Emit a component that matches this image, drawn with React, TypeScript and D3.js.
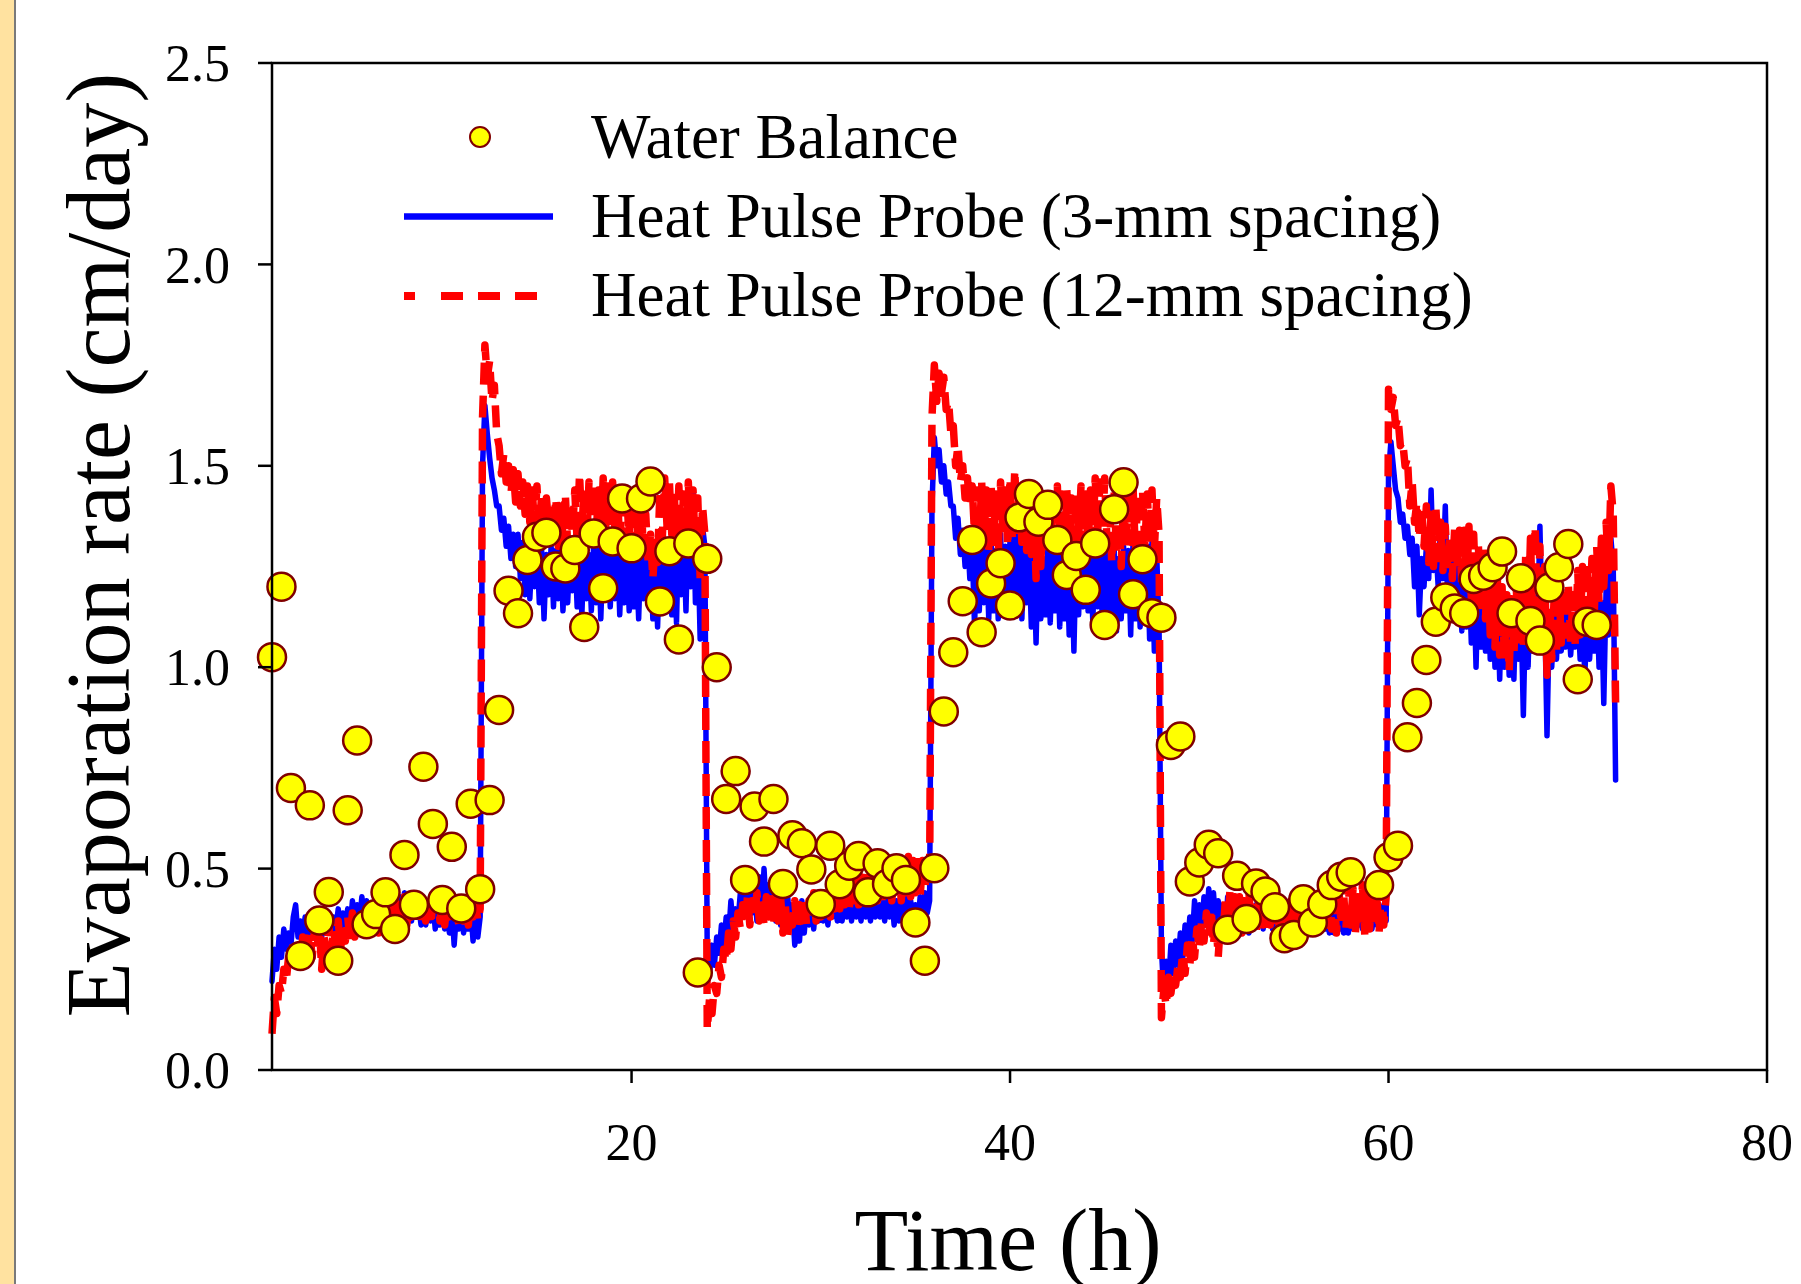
import React from 'react';
import * as d3 from 'd3';

// canvas + plot frame (pixels)
const W = 1801;
const H = 1284;
const plot = { left: 272, right: 1767, top: 63, bottom: 1070 };

const yTicks = [0, 0.5, 1.0, 1.5, 2.0, 2.5];
const xTicks = [20, 40, 60, 80];

// heat pulse probe records, sampled every 0.125 h from t = 1 h
const probeStart = 1;
const probeStep = 0.125;

// 3-mm spacing probe (blue), one array per phase (8 values = 1 h)
const hp3Phase1 = [
  0.22,0.30,0.25,0.33,0.28,0.35,0.30,0.34, 0.31,0.38,0.41,0.33,0.37,0.32,0.38,0.33,
  0.37,0.33,0.38,0.34,0.36,0.33,0.38,0.34, 0.39,0.34,0.38,0.35,0.40,0.34,0.39,0.36,
  0.40,0.35,0.42,0.36,0.41,0.37,0.43,0.36, 0.42,0.37,0.41,0.38,0.43,0.37,0.42,0.38,
  0.43,0.37,0.42,0.39,0.44,0.38,0.43,0.37, 0.44,0.38,0.42,0.37,0.43,0.38,0.41,0.36,
  0.42,0.36,0.41,0.37,0.42,0.35,0.40,0.36, 0.41,0.35,0.40,0.34,0.41,0.31,0.39,0.35,
  0.40,0.34,0.39,0.35,0.40,0.32,0.39,0.33, 0.38,
];
const hp3Phase2 = [
  1.50,1.65,1.58,1.52,1.47,1.44,1.40,
  1.40,1.34,1.37,1.30,1.35,1.27,1.33,1.25, 1.33,1.22,1.31,1.18,1.30,1.17,1.29,1.20,
  1.30,1.16,1.29,1.12,1.28,1.18,1.30,1.15, 1.29,1.17,1.31,1.14,1.28,1.16,1.30,1.19,
  1.30,1.15,1.29,1.13,1.31,1.17,1.28,1.14, 1.31,1.16,1.29,1.12,1.30,1.18,1.28,1.15,
  1.30,1.17,1.31,1.13,1.29,1.16,1.30,1.14, 1.31,1.15,1.28,1.12,1.30,1.17,1.29,1.16,
  1.27,1.12,1.30,1.10,1.28,1.15,1.31,1.17, 1.29,1.13,1.32,1.11,1.36,1.18,1.33,1.14,
  1.38,1.20,1.44,1.16,1.32,1.07,1.35,1.30,
];
const hp3Phase3 = [
  0.28,0.24,0.31,0.26,0.33,0.29,0.36,0.31, 0.38,0.33,0.42,0.35,0.40,0.37,0.44,0.38,
  0.45,0.38,0.47,0.39,0.44,0.37,0.48,0.38, 0.50,0.39,0.46,0.38,0.45,0.37,0.43,0.36,
  0.42,0.35,0.43,0.36,0.41,0.31,0.40,0.32, 0.42,0.34,0.41,0.36,0.43,0.35,0.42,0.37,
  0.43,0.37,0.42,0.36,0.43,0.38,0.42,0.37, 0.43,0.37,0.42,0.38,0.44,0.37,0.43,0.38,
  0.42,0.37,0.44,0.38,0.43,0.37,0.42,0.38, 0.43,0.38,0.42,0.37,0.44,0.38,0.43,0.36,
  0.42,0.37,0.44,0.38,0.43,0.37,0.42,0.36, 0.41,0.36,0.43,0.38,0.44,0.39,0.42,
];
const hp3Phase4 = [
  1.40,
  1.57,1.50,1.54,1.46,1.50,1.43,1.46,1.40, 1.40,1.32,1.37,1.28,1.34,1.25,1.33,1.22,
  1.30,1.10,1.31,1.14,1.32,1.16,1.30,1.12, 1.31,1.14,1.29,1.12,1.33,1.15,1.30,1.13,
  1.32,1.15,1.38,1.14,1.31,1.12,1.30,1.16, 1.29,1.10,1.28,1.06,1.30,1.12,1.27,1.13,
  1.30,1.11,1.29,1.14,1.31,1.10,1.28,1.12, 1.29,1.08,1.27,1.04,1.30,1.13,1.31,1.15,
  1.32,1.14,1.29,1.11,1.33,1.15,1.30,1.12, 1.31,1.10,1.28,1.13,1.30,1.09,1.27,1.12,
  1.30,1.14,1.29,1.08,1.31,1.12,1.28,1.10, 1.29,1.13,1.30,1.07,1.31,1.04,1.28,1.10,
];
const hp3Phase5 = [
  0.30,0.19,0.27,0.21,0.31,0.24,0.32,0.26, 0.34,0.28,0.36,0.30,0.38,0.32,0.42,0.34,
  0.41,0.35,0.43,0.36,0.45,0.37,0.44,0.36, 0.42,0.35,0.41,0.34,0.43,0.36,0.42,0.35,
  0.41,0.35,0.42,0.36,0.41,0.34,0.40,0.35, 0.41,0.36,0.40,0.35,0.42,0.36,0.41,0.35,
  0.40,0.35,0.41,0.36,0.40,0.34,0.41,0.35, 0.41,0.36,0.40,0.35,0.41,0.36,0.40,0.35,
  0.40,0.35,0.41,0.36,0.40,0.35,0.39,0.34, 0.39,0.34,0.40,0.35,0.39,0.34,0.38,0.34,
  0.40,0.35,0.41,0.36,0.40,0.35,0.41,0.36, 0.40,0.35,0.41,0.36,0.40,0.36,0.41,0.37,
];
const hp3Phase6 = [
  1.48,1.56,1.50,1.44,1.42,1.36,1.38,1.32, 1.35,1.28,1.32,1.20,1.30,1.13,1.27,1.20,
  1.30,1.22,1.44,1.24,1.30,1.20,1.36,1.22, 1.40,1.16,1.28,1.14,1.26,1.12,1.25,1.09,
  1.25,1.10,1.24,1.06,1.22,1.00,1.23,1.05, 1.22,1.04,1.24,1.02,1.20,1.00,1.18,0.97,
  1.20,1.00,1.16,0.98,1.15,0.97,1.18,1.02, 1.14,0.88,1.16,1.00,1.20,1.04,1.24,1.10,
  1.35,1.08,1.15,0.83,1.12,1.00,1.14,1.02, 1.15,1.04,1.14,1.05,1.15,1.03,1.12,1.05,
  1.15,1.02,1.12,0.98,1.14,1.02,1.13,1.04, 1.18,1.00,1.16,0.91,1.20,1.08,1.32,1.25,
  0.72,
];

// 12-mm spacing probe (red dashed)
const hp12Phase1 = [
  0.09,0.18,0.14,0.21,0.19,0.25,0.22,0.28, 0.25,0.32,0.27,0.31,0.26,0.33,0.28,0.30,
  0.34,0.28,0.35,0.30,0.36,0.25,0.33,0.29, 0.36,0.29,0.35,0.31,0.37,0.30,0.36,0.32,
  0.38,0.32,0.39,0.33,0.37,0.34,0.40,0.33, 0.40,0.34,0.39,0.35,0.41,0.34,0.40,0.36,
  0.41,0.35,0.40,0.36,0.42,0.35,0.41,0.37, 0.43,0.36,0.42,0.38,0.43,0.37,0.41,0.36,
  0.42,0.37,0.43,0.36,0.41,0.38,0.43,0.37, 0.42,0.36,0.41,0.38,0.43,0.37,0.40,0.36,
  0.42,0.37,0.41,0.36,0.43,0.38,0.42,0.37, 0.40,
];
const hp12Phase2 = [
  1.62,1.80,1.72,1.76,1.66,1.70,1.58,
  1.55,1.48,1.53,1.46,1.50,1.43,1.49,1.41, 1.48,1.40,1.46,1.38,1.45,1.36,1.44,1.35,
  1.45,1.34,1.43,1.33,1.42,1.35,1.41,1.33, 1.42,1.30,1.40,1.32,1.43,1.30,1.41,1.33,
  1.44,1.31,1.48,1.34,1.45,1.30,1.46,1.33, 1.46,1.32,1.44,1.31,1.47,1.34,1.45,1.30,
  1.46,1.33,1.44,1.30,1.45,1.32,1.43,1.31, 1.44,1.30,1.43,1.28,1.42,1.29,1.38,1.26,
  1.33,1.22,1.31,1.26,1.44,1.32,1.47,1.35, 1.46,1.33,1.44,1.30,1.45,1.32,1.43,1.29,
  1.46,1.31,1.44,1.28,1.42,1.22,1.40,1.33,
];
const hp12Phase3 = [
  0.10,0.18,0.14,0.21,0.19,0.26,0.23,0.30, 0.27,0.34,0.30,0.37,0.33,0.39,0.35,0.41,
  0.37,0.43,0.36,0.42,0.38,0.44,0.37,0.42, 0.36,0.43,0.38,0.44,0.36,0.42,0.37,0.43,
  0.34,0.41,0.33,0.40,0.36,0.42,0.35,0.41, 0.37,0.43,0.36,0.42,0.38,0.44,0.37,0.42,
  0.38,0.44,0.39,0.45,0.38,0.46,0.40,0.45, 0.40,0.47,0.41,0.48,0.40,0.47,0.42,0.49,
  0.41,0.48,0.42,0.50,0.41,0.49,0.43,0.50, 0.42,0.51,0.41,0.50,0.43,0.52,0.42,0.50,
  0.43,0.52,0.42,0.51,0.44,0.53,0.43,0.52, 0.44,0.53,0.43,0.52,0.45,0.53,0.46,
];
const hp12Phase4 = [
  1.62,
  1.75,1.66,1.73,1.68,1.72,1.64,1.66,1.58, 1.60,1.50,1.55,1.46,1.50,1.42,1.47,1.40,
  1.45,1.33,1.44,1.30,1.46,1.32,1.44,1.29, 1.45,1.31,1.43,1.28,1.46,1.33,1.44,1.30,
  1.47,1.32,1.49,1.34,1.45,1.31,1.44,1.29, 1.43,1.28,1.41,1.22,1.38,1.25,1.42,1.28,
  1.44,1.30,1.42,1.27,1.45,1.31,1.43,1.28, 1.44,1.30,1.42,1.28,1.43,1.32,1.45,1.30,
  1.43,1.29,1.44,1.31,1.47,1.33,1.46,1.30, 1.47,1.31,1.42,1.26,1.44,1.28,1.40,1.25,
  1.42,1.29,1.44,1.31,1.45,1.28,1.43,1.27, 1.44,1.30,1.43,1.31,1.44,1.29,1.42,1.33,
];
const hp12Phase5 = [
  0.13,0.20,0.16,0.23,0.19,0.24,0.21,0.26, 0.23,0.29,0.24,0.31,0.26,0.33,0.28,0.35,
  0.30,0.37,0.32,0.39,0.33,0.40,0.31,0.38, 0.28,0.37,0.33,0.42,0.35,0.45,0.34,0.43,
  0.35,0.43,0.34,0.42,0.36,0.44,0.35,0.42, 0.34,0.43,0.35,0.42,0.34,0.44,0.36,0.43,
  0.35,0.42,0.34,0.43,0.36,0.41,0.35,0.43, 0.34,0.42,0.36,0.44,0.35,0.43,0.34,0.42,
  0.35,0.44,0.36,0.43,0.34,0.45,0.36,0.44, 0.35,0.43,0.34,0.45,0.36,0.44,0.35,0.46,
  0.36,0.45,0.34,0.43,0.36,0.46,0.33,0.44, 0.35,0.46,0.36,0.44,0.34,0.45,0.36,0.43,
];
const hp12Phase6 = [
  1.69,1.64,1.67,1.60,1.62,1.55,1.56,1.50, 1.52,1.40,1.46,1.36,1.41,1.32,1.40,1.30,
  1.40,1.26,1.38,1.25,1.40,1.27,1.36,1.24, 1.35,1.24,1.33,1.22,1.35,1.25,1.34,1.20,
  1.34,1.20,1.35,1.17,1.33,1.16,1.30,1.14, 1.30,1.12,1.28,1.08,1.25,1.05,1.22,1.03,
  1.20,1.02,1.18,0.99,1.17,1.03,1.20,1.05, 1.22,1.05,1.28,1.10,1.32,1.12,1.35,1.10,
  1.30,1.03,1.25,0.98,1.20,1.02,1.17,1.04, 1.22,1.06,1.20,1.08,1.21,1.06,1.18,1.05,
  1.24,1.08,1.25,1.10,1.26,1.12,1.27,1.14, 1.30,1.16,1.32,1.20,1.36,1.24,1.45,1.38,
  0.91,
];

// water balance points
const wbTime = [
  1, 1.5, 2, 2.5, 3, 3.5, 4, 4.5, 5, 5.5, 6, 6.5, 7, 7.5, 8, 8.5, 9, 9.5, 10, 10.5, 11, 11.5, 12, 12.5,
  13, 13.5, 14, 14.5, 15, 15.5, 16, 16.5, 17, 17.5, 18, 18.5, 19, 19.5, 20, 20.5, 21, 21.5, 22, 22.5, 23, 23.5, 24, 24.5,
  25, 25.5, 26, 26.5, 27, 27.5, 28, 28.5, 29, 29.5, 30, 30.5, 31, 31.5, 32, 32.5, 33, 33.5, 34, 34.5, 35, 35.5, 36,
  36.5, 37, 37.5, 38, 38.5, 39, 39.5, 40, 40.5, 41, 41.5, 42, 42.5, 43, 43.5, 44, 44.5, 45, 45.5, 46, 46.5, 47, 47.5, 48,
  48.5, 49, 49.5, 50, 50.5, 51, 51.5, 52, 52.5, 53, 53.5, 54, 54.5, 55, 55.5, 56, 56.5, 57, 57.5, 58, 59.5, 60, 60.5,
  61, 61.5, 62, 62.5, 63, 63.5, 64, 64.5, 65, 65.5, 66, 66.5, 67, 67.5, 68, 68.5, 69, 69.5, 70, 70.5, 71,
];
const wbRate = [
  1.025, 1.20, 0.70, 0.283, 0.657, 0.371, 0.442, 0.271, 0.645, 0.818, 0.362, 0.387, 0.441, 0.350, 0.534, 0.410, 0.753, 0.611, 0.422, 0.554, 0.401, 0.661, 0.449, 0.670,
  0.894, 1.19, 1.134, 1.266, 1.324, 1.334, 1.25, 1.245, 1.291, 1.10, 1.332, 1.196, 1.312, 1.419, 1.295, 1.419, 1.461, 1.163, 1.288, 1.069, 1.307, 0.242, 1.269, 1.0,
  0.673, 0.742, 0.472, 0.654, 0.567, 0.673, 0.462, 0.583, 0.563, 0.498, 0.412, 0.557, 0.461, 0.507, 0.531, 0.441, 0.513, 0.462, 0.501, 0.472, 0.366, 0.271, 0.501,
  0.89, 1.037, 1.164, 1.316, 1.087, 1.208, 1.258, 1.153, 1.372, 1.43, 1.361, 1.403, 1.316, 1.229, 1.276, 1.192, 1.307, 1.105, 1.392, 1.459, 1.181, 1.268, 1.134, 1.123,
  0.807, 0.828, 0.468, 0.515, 0.559, 0.538, 0.348, 0.482, 0.375, 0.463, 0.443, 0.404, 0.327, 0.335, 0.424, 0.366, 0.412, 0.459, 0.48, 0.491, 0.459, 0.528, 0.557,
  0.826, 0.911, 1.018, 1.113, 1.173, 1.146, 1.134, 1.219, 1.227, 1.248, 1.287, 1.134, 1.221, 1.115, 1.066, 1.198, 1.248, 1.306, 0.97, 1.113, 1.105,
];

const hp3 = [...hp3Phase1, ...hp3Phase2, ...hp3Phase3, ...hp3Phase4, ...hp3Phase5, ...hp3Phase6];
const hp12 = [...hp12Phase1, ...hp12Phase2, ...hp12Phase3, ...hp12Phase4, ...hp12Phase5, ...hp12Phase6];
const probeTime = hp3.map((_, i) => probeStart + i * probeStep);

const FONT = '"Liberation Serif", "DejaVu Serif", serif';

export default function App() {
  const x = d3.scaleLinear().domain([1, 80]).range([plot.left, plot.right]);
  const y = d3.scaleLinear().domain([0, 2.5]).range([plot.bottom, plot.top]);

  const line = d3
    .line<number>()
    .x((_, i) => x(probeTime[i]))
    .y((d) => y(d));

  return (
    <svg
      width={W}
      height={H}
      style={{ position: 'absolute', left: 0, top: 0, display: 'block', background: '#fff' }}
    >
      {/* left page edge */}
      <rect x={0} y={0} width={14} height={H} fill="#FFE2A0" />
      <rect x={14} y={0} width={2} height={H} fill="#7a7a7a" />

      {/* probe lines */}
      <path d={line(hp3) ?? ''} fill="none" stroke="#0000FF" strokeWidth={5.5} strokeLinejoin="round" strokeLinecap="round" />
      <path d={line(hp12) ?? ''} fill="none" stroke="#FF0000" strokeWidth={7.5} strokeDasharray="22,11" strokeLinejoin="round" />

      {/* water balance */}
      {wbTime.map((t, i) => (
        <circle key={i} cx={x(t)} cy={y(wbRate[i])} r={14} fill="#FFFF00" stroke="#800000" strokeWidth={2.5} />
      ))}

      {/* frame */}
      <rect
        x={plot.left}
        y={plot.top}
        width={plot.right - plot.left}
        height={plot.bottom - plot.top}
        fill="none"
        stroke="#000"
        strokeWidth={2.5}
      />

      {/* y axis */}
      {yTicks.map((v) => (
        <g key={v}>
          <line x1={plot.left - 14} x2={plot.left} y1={y(v)} y2={y(v)} stroke="#000" strokeWidth={2.5} />
          <text x={230} y={y(v)} dy="0.35em" textAnchor="end" fontFamily={FONT} fontSize={52}>
            {v.toFixed(1)}
          </text>
        </g>
      ))}

      {/* x axis */}
      {xTicks.map((v) => (
        <g key={v}>
          <line x1={x(v)} x2={x(v)} y1={plot.bottom} y2={plot.bottom + 13} stroke="#000" strokeWidth={2.5} />
          <text x={x(v)} y={1160} textAnchor="middle" fontFamily={FONT} fontSize={52}>
            {v}
          </text>
        </g>
      ))}

      <text x={1008} y={1270} textAnchor="middle" fontFamily={FONT} fontSize={88}>
        Time (h)
      </text>
      <text
        transform="translate(129,545) rotate(-90)"
        textAnchor="middle"
        fontFamily={FONT}
        fontSize={90}
      >
        Evaporation rate (cm/day)
      </text>

      {/* legend */}
      <circle cx={480} cy={137} r={10} fill="#FFFF00" stroke="#800000" strokeWidth={2} />
      <text x={591} y={158} fontFamily={FONT} fontSize={63}>Water Balance</text>
      <line x1={404} x2={553} y1={216.5} y2={216.5} stroke="#0000FF" strokeWidth={6.5} />
      <text x={591} y={237} fontFamily={FONT} fontSize={63}>Heat Pulse Probe (3-mm spacing)</text>
      <line x1={404} x2={537} y1={296} y2={296} stroke="#FF0000" strokeWidth={8} strokeDasharray="11,26,22,15,22,15,22" />
      <text x={591} y={316} fontFamily={FONT} fontSize={63}>Heat Pulse Probe (12-mm spacing)</text>
    </svg>
  );
}
